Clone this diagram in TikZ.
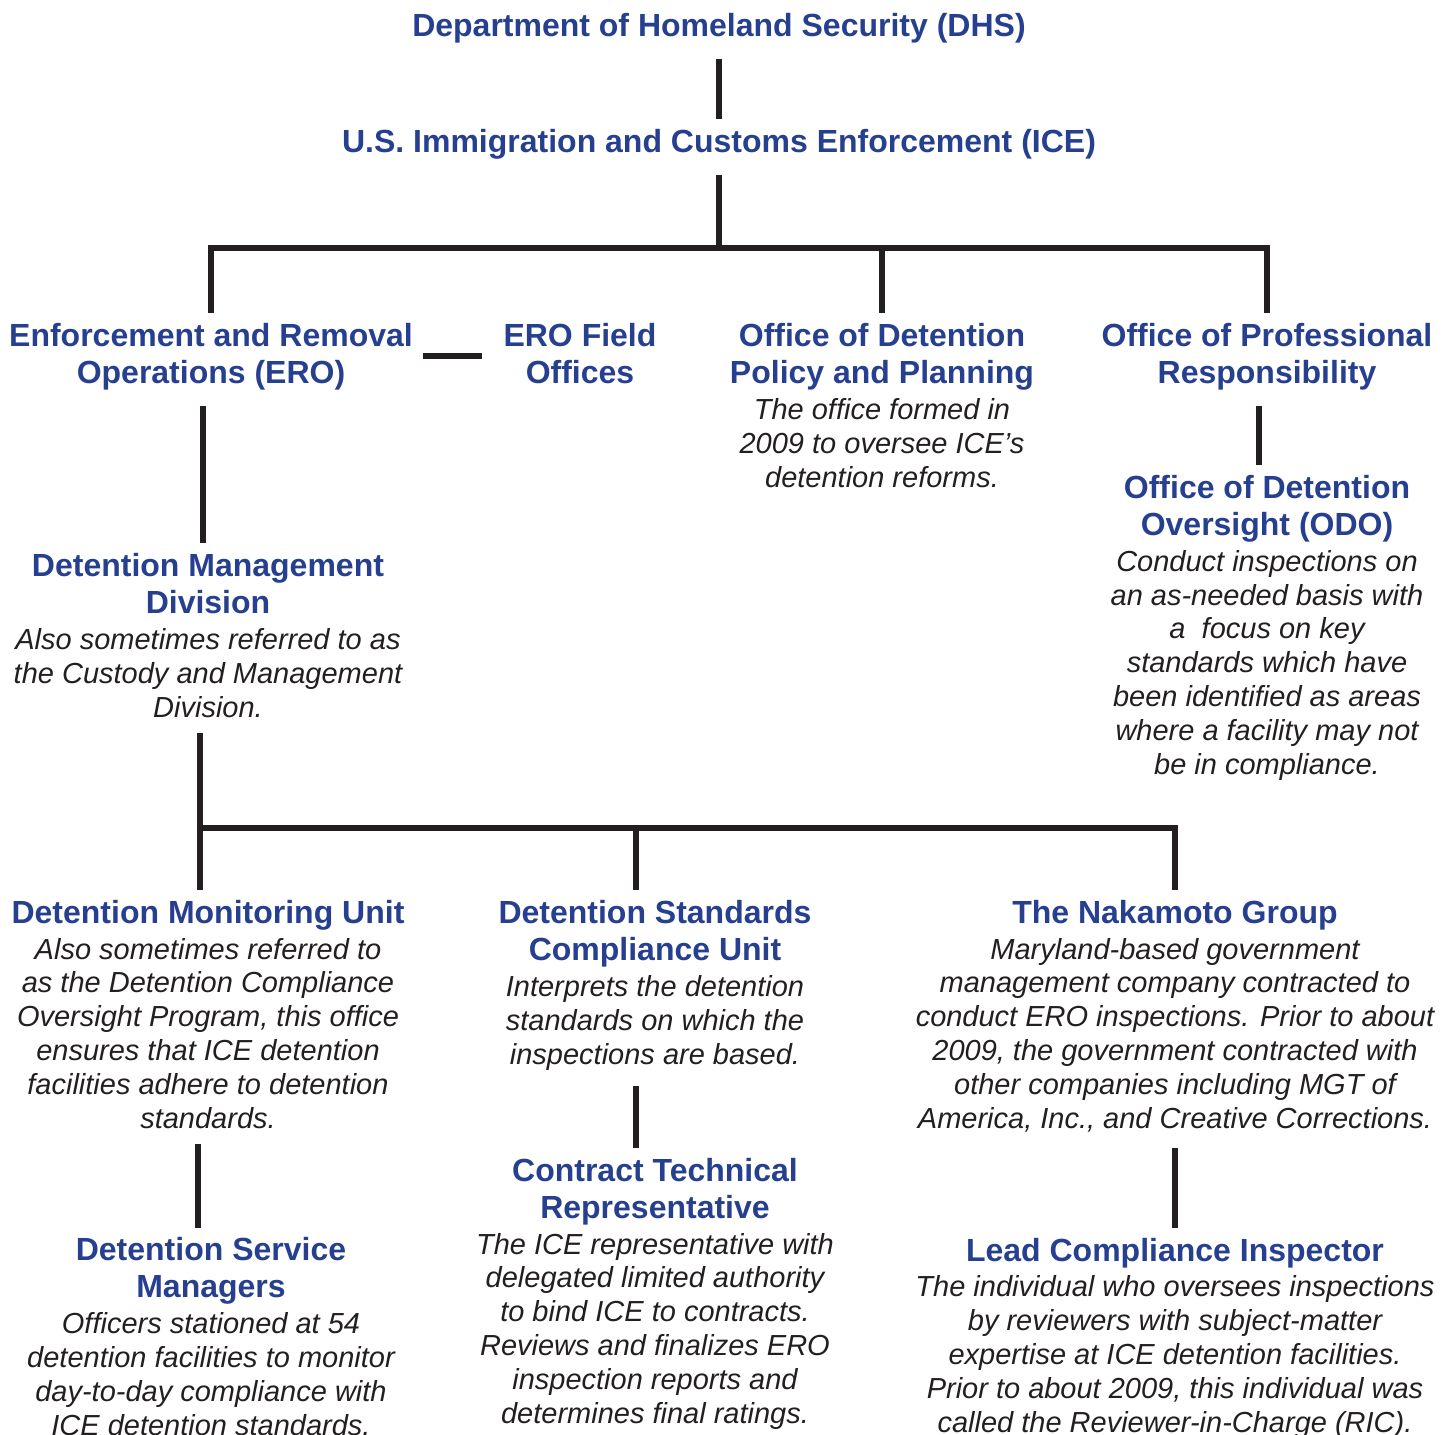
\documentclass[tikz,border=0pt]{standalone}
\usepackage{fontspec}
\setmainfont{Liberation Sans}
\usepackage{xcolor}
\definecolor{orgblue}{RGB}{38,64,143}
\definecolor{orgtext}{RGB}{35,31,32}
\newcommand{\hd}[1]{{\fontsize{16}{18.5}\selectfont\bfseries\upshape\color{orgblue}#1}}
\begin{document}
\begin{tikzpicture}[
		x=0.5pt, y=-0.5pt,
		unit/.style={align=center, anchor=base, inner sep=0pt, outer sep=5pt,
				text=orgtext, font=\fontsize{14.5}{16.9}\selectfont\itshape},
		link/.style={draw=orgtext, line width=3.2pt, shorten <=3pt}
	]
	\useasboundingbox (0,0) rectangle (1442,1435);
	\node[unit] (dhs) at (719,36) {\hd{Department of Homeland Security (DHS)}};
	\node[unit] (ice) at (719,152) {\hd{U.S. Immigration and Customs Enforcement (ICE)}};
	\node[unit] (ero) at (211,383) {\hd{Enforcement and Removal}\\[1.6pt]\hd{Operations (ERO)}};
	\node[unit] (fo) at (580,383) {\hd{ERO Field}\\[1.6pt]\hd{Offices}};
	\node[unit] (odpp) at (882,487) {\hd{Office of Detention}\\[1.6pt]\hd{Policy and Planning}\\[1pt]
			The office formed in\\2009 to oversee ICE’s\\detention reforms.};
	\node[unit] (opr) at (1267,383) {\hd{Office of Professional}\\[1.6pt]\hd{Responsibility}};
	\node[unit] (odo) at (1267,774) {\hd{Office of Detention}\\[1.6pt]\hd{Oversight (ODO)}\\[1pt]
			Conduct inspections on\\an as-needed basis with\\a\ \ focus on key\\standards which have\\
			been identified as areas\\where a facility may not\\be in compliance.};
	\node[unit] (dmd) at (208,717) {\hd{Detention Management}\\[1.6pt]\hd{Division}\\[1pt]
			Also sometimes referred to as\\the Custody and Management\\Division.};
	\node[unit] (dmu) at (208,1128) {\hd{Detention Monitoring Unit}\\[1pt]
			Also sometimes referred to\\as the Detention Compliance\\Oversight Program, this office\\
			ensures that ICE detention\\facilities adhere to detention\\standards.};
	\node[unit] (dsm) at (211,1435) {\hd{Detention Service}\\[1.6pt]\hd{Managers}\\[1pt]
			Officers stationed at 54\\detention facilities to monitor\\day-to-day compliance with\\
			ICE detention standards.};
	\node[unit] (dscu) at (655,1064) {\hd{Detention Standards}\\[1.6pt]\hd{Compliance Unit}\\[1pt]
			Interprets the detention\\standards on which the\\inspections are based.};
	\node[unit] (ctr) at (655,1423) {\hd{Contract Technical}\\[1.6pt]\hd{Representative}\\[1pt]
			The ICE representative with\\delegated limited authority\\to bind ICE to contracts.\\
			Reviews and finalizes ERO\\inspection reports and\\determines final ratings.};
	\node[unit] (nak) at (1175,1128) {\hd{The Nakamoto Group}\\[1pt]
			Maryland-based government\\management company contracted to\\
			conduct ERO inspections. Prior to about\\2009, the government contracted with\\
			other companies including MGT of\\America, Inc., and Creative Corrections.};
	\node[unit] (lci) at (1175,1432) {\hd{Lead Compliance Inspector}\\[1pt]
			The individual who oversees inspections\\by reviewers with subject-matter\\
			expertise at ICE detention facilities.\\Prior to about 2009, this individual was\\
			called the Reviewer-in-Charge (RIC).};
	\coordinate (bus1) at (719,248);
	\coordinate (bus2) at (636,828);
	\draw[link] (dhs) -- (ice);
	\draw[link] (ice) -- (bus1);
	\draw[link, shorten <=0pt] (ero.north) |- (bus1) -| (opr.north);
	\draw[link, shorten <=0pt] (bus1 -| odpp.north) -- (odpp.north);
	\draw[link, shorten <=0pt, shorten >=6pt] (ero.east) -- (ero.east -| fo.west);
	\draw[link] ([xshift=-4pt]opr.south) -- ([xshift=-4pt]opr.south |- odo.north);
	\draw[link] ([xshift=-4pt]ero.south) -- ([xshift=-4pt]ero.south |- dmd.north);
	\draw[link] ([xshift=-4pt]dmd.south) -- ([xshift=-4pt]dmd.south |- dmu.north);
	\draw[link, shorten <=-1.6pt] ([xshift=-4pt]dmd.south |- bus2) -| (nak.north);
	\draw[link, shorten <=0pt] (bus2) -- (bus2 |- dscu.north);
	\draw[link] (bus2 |- dscu.south) -- (bus2 |- ctr.north);
	\draw[link] ([xshift=-5pt]dmu.south) -- ([xshift=-5pt]dmu.south |- dsm.north);
	\draw[link] (nak.south) -- (nak.south |- lci.north);
\end{tikzpicture}
\end{document}
